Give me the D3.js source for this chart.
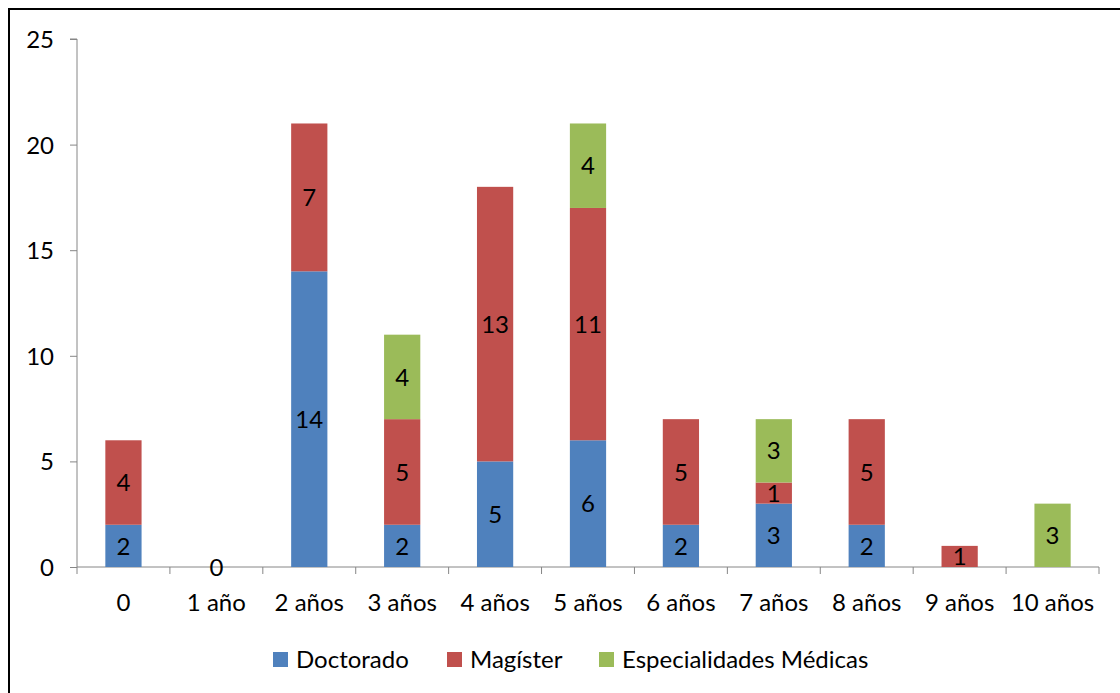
<!DOCTYPE html>
<html><head><meta charset="utf-8">
<script src="https://cdn.jsdelivr.net/npm/d3@7"></script>
<style>body{margin:0;background:#fff}svg{display:block;font-family:Lato,"Open Sans",sans-serif}</style>
</head><body><svg id="c" width="1120" height="693"></svg>
<script>
const categories = ["0","1 año","2 años","3 años","4 años","5 años","6 años","7 años","8 años","9 años","10 años"];
const seriesNames = ["Doctorado","Magíster","Especialidades Médicas"];
const doctorado = [2,0,14,2,5,6,2,3,2,null,null];
const magister = [4,null,7,5,13,11,5,1,5,1,null];
const especialidades = [null,null,null,4,null,4,null,3,null,null,3];
const colors = ["#4F81BD","#C0504D","#9BBB59"];
const yTicks = [0,5,10,15,20,25];

(function(){
const svg = d3.select("#c");
svg.append("rect").attr("x",9).attr("y",9).attr("width",1130).attr("height",700)
  .attr("fill","#fff").attr("stroke","#000").attr("stroke-width",2);

const pL=77, pR=1099, pT=39, pB=567;
const FS=24;
const x = d3.scaleBand().domain(categories).range([pL,pR]).paddingInner(0.61).paddingOuter(0.305);
const y = d3.scaleLinear().domain([0,25]).range([pB,pT]);

const table = categories.map((c,i)=>({cat:c, v:[doctorado[i],magister[i],especialidades[i]]}));
const stackData = table.map(d=>{const o={cat:d.cat}; seriesNames.forEach((s,j)=>o[s]=d.v[j]||0); return o;});
const stack = d3.stack().keys(seriesNames)(stackData);

const yAxis = svg.append("g").attr("transform",`translate(${pL},0)`)
  .call(d3.axisLeft(y).tickValues(yTicks).tickSize(7).tickPadding(16));
yAxis.select(".domain").attr("stroke","#868686").attr("d",`M-7,${pT}H0V${pB}`);
yAxis.selectAll(".tick line").attr("stroke","#868686");
yAxis.selectAll("text").attr("font-size",FS).attr("fill","#000").attr("font-family","Lato").attr("dy","0.35em");

const xAxis = svg.append("g").attr("transform",`translate(0,${pB})`)
  .call(d3.axisBottom(x).tickSize(0));
xAxis.select(".domain").attr("stroke","#868686").attr("d",`M${pL},0H${pR}`);
xAxis.selectAll("text").attr("font-size",FS).attr("fill","#000").attr("font-family","Lato").attr("y",36).attr("dy","0.35em");
const bounds = categories.map((c,i)=>pL + i*x.step()).concat([pR]);
xAxis.selectAll(".bt").data(bounds).enter().append("line").attr("class","bt")
  .attr("x1",d=>d).attr("x2",d=>d).attr("y1",0).attr("y2",7).attr("stroke","#868686");

stack.forEach((layer,j)=>{
  svg.append("g").selectAll("rect").data(layer).enter().append("rect")
    .attr("x",d=>x(d.data.cat)).attr("width",x.bandwidth())
    .attr("y",d=>y(d[1])).attr("height",d=>y(d[0])-y(d[1]))
    .attr("fill",colors[j]);
});
stack.forEach((layer,j)=>{
  const vals=[doctorado,magister,especialidades][j];
  svg.append("g").selectAll("text").data(layer.filter((d,i)=>vals[i]!==null)).enter().append("text")
    .attr("x",d=>x(d.data.cat)+x.bandwidth()/2).attr("y",d=>(y(d[0])+y(d[1]))/2)
    .attr("dy","0.36em").attr("text-anchor","middle").attr("font-size",FS).attr("fill","#000")
    .text(d=>d[1]-d[0]);
});

const legX=[273,447,599];
const lg = svg.append("g");
seriesNames.forEach((s,j)=>{
  lg.append("rect").attr("x",legX[j]).attr("y",652).attr("width",15).attr("height",15).attr("fill",colors[j]);
  lg.append("text").attr("x",legX[j]+23).attr("y",659.5).attr("dy","0.36em").attr("font-size",24).attr("fill","#000").text(s);
});
})();
</script></body></html>
